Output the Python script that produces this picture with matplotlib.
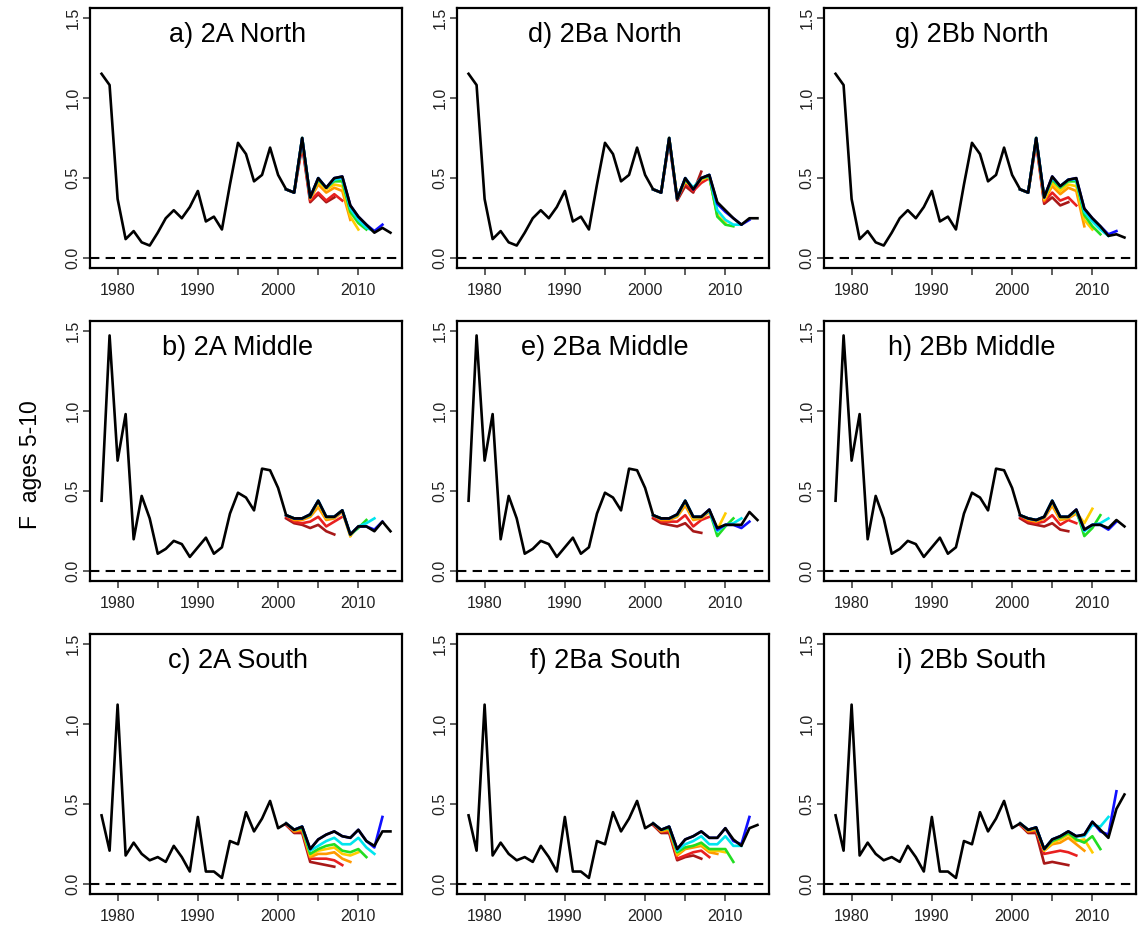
import matplotlib
matplotlib.use("Agg")
import matplotlib.pyplot as plt
import numpy as np

plt.rcParams['font.family'] = ['Liberation Sans', 'DejaVu Sans']

# years
years_early = list(range(1978, 2001))   # shared part of each region
years_recent = list(range(2001, 2015))  # part that differs between panels
peel_start = 2001
peel_colors = ['#A81818', '#E82020', '#FF9900', '#FFCC00', '#22DD22', '#00E5EE', '#1010FF']

# black series, early part (1978-2000) per region
north_early = [1.15, 1.08, 0.37, 0.12, 0.17, 0.10, 0.08, 0.16, 0.25, 0.30, 0.25, 0.32,
               0.42, 0.23, 0.26, 0.18, 0.46, 0.72, 0.65, 0.48, 0.52, 0.69, 0.52]
middle_early = [0.44, 1.47, 0.69, 0.98, 0.20, 0.47, 0.33, 0.11, 0.14, 0.19, 0.17, 0.09,
                0.15, 0.21, 0.11, 0.15, 0.36, 0.49, 0.46, 0.38, 0.64, 0.63, 0.52]
south_early = [0.43, 0.21, 1.12, 0.18, 0.26, 0.19, 0.15, 0.17, 0.14, 0.24, 0.17, 0.08,
               0.42, 0.08, 0.08, 0.04, 0.27, 0.25, 0.45, 0.33, 0.41, 0.52, 0.35]

# black series, 2001-2014
a_recent = [0.43, 0.41, 0.75, 0.38, 0.50, 0.44, 0.50, 0.51, 0.33, 0.26, 0.21, 0.16, 0.19, 0.16]
d_recent = [0.43, 0.41, 0.75, 0.37, 0.50, 0.43, 0.50, 0.52, 0.35, 0.30, 0.25, 0.21, 0.25, 0.25]
g_recent = [0.43, 0.41, 0.75, 0.38, 0.51, 0.45, 0.49, 0.50, 0.31, 0.25, 0.20, 0.14, 0.15, 0.13]
b_recent = [0.35, 0.33, 0.33, 0.355, 0.44, 0.34, 0.34, 0.38, 0.23, 0.28, 0.28, 0.25, 0.31, 0.25]
e_recent = [0.35, 0.33, 0.33, 0.355, 0.44, 0.34, 0.34, 0.385, 0.27, 0.29, 0.29, 0.29, 0.37, 0.32]
h_recent = [0.35, 0.33, 0.32, 0.34, 0.44, 0.34, 0.34, 0.385, 0.26, 0.29, 0.29, 0.27, 0.32, 0.28]
c_recent = [0.38, 0.34, 0.36, 0.22, 0.28, 0.31, 0.33, 0.30, 0.29, 0.34, 0.27, 0.24, 0.33, 0.33]
f_recent = [0.38, 0.34, 0.36, 0.22, 0.28, 0.30, 0.33, 0.29, 0.29, 0.35, 0.28, 0.24, 0.35, 0.37]
i_recent = [0.38, 0.34, 0.355, 0.22, 0.28, 0.30, 0.33, 0.30, 0.31, 0.39, 0.34, 0.29, 0.47, 0.56]

# retrospective peels from 2001, ending 2007 ... 2013
a_peels = [
    [0.43, 0.41, 0.70, 0.35, 0.40, 0.35, 0.38],
    [0.43, 0.41, 0.72, 0.36, 0.41, 0.36, 0.40, 0.36],
    [0.43, 0.41, 0.74, 0.37, 0.46, 0.41, 0.44, 0.42, 0.24],
    [0.43, 0.41, 0.75, 0.38, 0.48, 0.43, 0.46, 0.45, 0.26, 0.18],
    [0.43, 0.41, 0.75, 0.38, 0.49, 0.44, 0.48, 0.48, 0.29, 0.22, 0.18],
    [0.43, 0.41, 0.75, 0.38, 0.50, 0.44, 0.49, 0.50, 0.31, 0.24, 0.19, 0.17],
    [0.43, 0.41, 0.75, 0.38, 0.50, 0.44, 0.50, 0.51, 0.33, 0.26, 0.21, 0.17, 0.21],
]
d_peels = [
    [0.43, 0.41, 0.73, 0.36, 0.45, 0.41, 0.54],
    [0.43, 0.41, 0.74, 0.37, 0.47, 0.42, 0.47, 0.50],
    [0.43, 0.41, 0.75, 0.38, 0.48, 0.44, 0.49, 0.51, 0.27],
    [0.43, 0.41, 0.75, 0.38, 0.48, 0.44, 0.49, 0.51, 0.27, 0.22],
    [0.43, 0.41, 0.75, 0.37, 0.49, 0.44, 0.50, 0.51, 0.26, 0.21, 0.20],
    [0.43, 0.41, 0.75, 0.37, 0.50, 0.44, 0.50, 0.52, 0.30, 0.24, 0.21, 0.21],
    [0.43, 0.41, 0.75, 0.37, 0.50, 0.43, 0.50, 0.52, 0.34, 0.29, 0.25, 0.21, 0.24],
]
g_peels = [
    [0.43, 0.41, 0.72, 0.34, 0.38, 0.33, 0.35],
    [0.43, 0.41, 0.73, 0.35, 0.41, 0.36, 0.38, 0.33],
    [0.43, 0.41, 0.74, 0.36, 0.45, 0.40, 0.44, 0.42, 0.20],
    [0.43, 0.41, 0.75, 0.37, 0.47, 0.42, 0.46, 0.45, 0.24, 0.18],
    [0.43, 0.41, 0.75, 0.38, 0.49, 0.44, 0.48, 0.48, 0.27, 0.20, 0.15],
    [0.43, 0.41, 0.75, 0.38, 0.50, 0.45, 0.49, 0.49, 0.29, 0.23, 0.18, 0.14],
    [0.43, 0.41, 0.75, 0.38, 0.51, 0.45, 0.49, 0.50, 0.31, 0.25, 0.20, 0.15, 0.17],
]
b_peels = [
    [0.33, 0.30, 0.29, 0.27, 0.29, 0.25, 0.23],
    [0.34, 0.31, 0.30, 0.31, 0.34, 0.28, 0.31, 0.34],
    [0.35, 0.32, 0.32, 0.34, 0.40, 0.32, 0.33, 0.37, 0.22],
    [0.35, 0.33, 0.33, 0.35, 0.43, 0.33, 0.34, 0.38, 0.22, 0.28],
    [0.35, 0.33, 0.33, 0.35, 0.44, 0.34, 0.34, 0.38, 0.23, 0.27, 0.32],
    [0.35, 0.33, 0.33, 0.355, 0.44, 0.34, 0.34, 0.38, 0.23, 0.28, 0.30, 0.33],
    [0.35, 0.33, 0.33, 0.355, 0.44, 0.34, 0.34, 0.38, 0.23, 0.28, 0.28, 0.26, 0.31],
]
e_peels = [
    [0.33, 0.30, 0.29, 0.28, 0.30, 0.25, 0.24],
    [0.34, 0.31, 0.31, 0.31, 0.35, 0.28, 0.32, 0.34],
    [0.35, 0.32, 0.32, 0.34, 0.41, 0.32, 0.33, 0.37, 0.26],
    [0.35, 0.33, 0.33, 0.35, 0.43, 0.33, 0.34, 0.38, 0.26, 0.36],
    [0.35, 0.33, 0.33, 0.35, 0.44, 0.34, 0.34, 0.38, 0.22, 0.28, 0.33],
    [0.35, 0.33, 0.33, 0.355, 0.44, 0.34, 0.34, 0.38, 0.25, 0.29, 0.30, 0.33],
    [0.35, 0.33, 0.33, 0.355, 0.44, 0.34, 0.34, 0.385, 0.26, 0.29, 0.29, 0.27, 0.31],
]
h_peels = [
    [0.33, 0.30, 0.29, 0.28, 0.30, 0.26, 0.25],
    [0.34, 0.31, 0.30, 0.31, 0.35, 0.29, 0.32, 0.30],
    [0.35, 0.32, 0.31, 0.33, 0.41, 0.32, 0.33, 0.36, 0.27],
    [0.35, 0.33, 0.32, 0.34, 0.43, 0.33, 0.34, 0.37, 0.30, 0.39],
    [0.35, 0.33, 0.32, 0.34, 0.44, 0.34, 0.34, 0.38, 0.22, 0.27, 0.35],
    [0.35, 0.33, 0.32, 0.34, 0.44, 0.34, 0.34, 0.38, 0.25, 0.29, 0.30, 0.33],
    [0.35, 0.33, 0.32, 0.34, 0.44, 0.34, 0.34, 0.385, 0.26, 0.29, 0.29, 0.26, 0.31],
]
c_peels = [
    [0.37, 0.32, 0.32, 0.14, 0.13, 0.12, 0.11],
    [0.37, 0.33, 0.33, 0.16, 0.16, 0.16, 0.15, 0.12],
    [0.38, 0.33, 0.34, 0.17, 0.19, 0.19, 0.20, 0.16, 0.14],
    [0.38, 0.34, 0.35, 0.18, 0.21, 0.22, 0.23, 0.19, 0.18, 0.20],
    [0.38, 0.34, 0.35, 0.19, 0.22, 0.24, 0.25, 0.21, 0.20, 0.22, 0.17],
    [0.38, 0.34, 0.36, 0.21, 0.24, 0.27, 0.29, 0.25, 0.25, 0.29, 0.23, 0.19],
    [0.38, 0.34, 0.36, 0.22, 0.28, 0.31, 0.33, 0.30, 0.29, 0.34, 0.27, 0.23, 0.42],
]
f_peels = [
    [0.37, 0.32, 0.32, 0.15, 0.17, 0.18, 0.16],
    [0.37, 0.33, 0.33, 0.16, 0.18, 0.20, 0.21, 0.17],
    [0.38, 0.33, 0.34, 0.18, 0.22, 0.23, 0.24, 0.20, 0.19],
    [0.38, 0.34, 0.35, 0.19, 0.23, 0.24, 0.25, 0.21, 0.21, 0.20],
    [0.38, 0.34, 0.35, 0.20, 0.23, 0.24, 0.26, 0.22, 0.22, 0.22, 0.14],
    [0.38, 0.34, 0.36, 0.21, 0.25, 0.27, 0.30, 0.25, 0.25, 0.30, 0.24, 0.24],
    [0.38, 0.34, 0.36, 0.22, 0.28, 0.30, 0.33, 0.29, 0.29, 0.35, 0.27, 0.25, 0.42],
]
i_peels = [
    [0.37, 0.32, 0.32, 0.13, 0.14, 0.13, 0.12],
    [0.37, 0.33, 0.33, 0.19, 0.20, 0.21, 0.20, 0.18],
    [0.38, 0.33, 0.34, 0.21, 0.25, 0.26, 0.29, 0.25, 0.21],
    [0.38, 0.34, 0.35, 0.21, 0.26, 0.28, 0.31, 0.27, 0.28, 0.20],
    [0.38, 0.34, 0.35, 0.22, 0.27, 0.29, 0.32, 0.28, 0.26, 0.30, 0.22],
    [0.38, 0.34, 0.355, 0.22, 0.28, 0.30, 0.33, 0.30, 0.30, 0.37, 0.36, 0.42],
    [0.38, 0.34, 0.355, 0.22, 0.28, 0.30, 0.33, 0.30, 0.31, 0.39, 0.33, 0.31, 0.58],
]

titles = [["a) 2A North", "d) 2Ba North", "g) 2Bb North"],
          ["b) 2A Middle", "e) 2Ba Middle", "h) 2Bb Middle"],
          ["c) 2A South", "f) 2Ba South", "i) 2Bb South"]]
early = [north_early, middle_early, south_early]
recent = [[a_recent, d_recent, g_recent],
          [b_recent, e_recent, h_recent],
          [c_recent, f_recent, i_recent]]
peels = [[a_peels, d_peels, g_peels],
         [b_peels, e_peels, h_peels],
         [c_peels, f_peels, i_peels]]

W, H = 1142, 930
fig = plt.figure(figsize=(W / 100, H / 100), dpi=100)

col_left = [90, 457, 824]
row_top = [8, 321, 634]
pw, ph = 312, 260

for r in range(3):
    for c in range(3):
        ax = fig.add_axes([col_left[c] / W, 1 - (row_top[r] + ph) / H, pw / W, ph / H])
        yrs = years_early + years_recent
        vals = early[r] + recent[r][c]
        for k, pv in enumerate(peels[r][c]):
            py = list(range(peel_start, peel_start + len(pv)))
            ax.plot(py, pv, color=peel_colors[k], lw=1.9, solid_joinstyle='round')
        ax.plot(yrs, vals, color='black', lw=1.9, zorder=5)
        ax.axhline(0, color='black', lw=1.5, linestyle=(0, (4.5, 3)))
        ax.set_xlim(1976.56, 2015.44)
        ax.set_ylim(-0.06, 1.56)
        ax.set_xticks(np.arange(1980, 2011, 5))
        ax.set_xticklabels([str(t) if t % 10 == 0 else '' for t in range(1980, 2011, 5)])
        ax.set_yticks([0, 0.5, 1.0, 1.5])
        ax.set_yticklabels(['0.0', '0.5', '1.0', '1.5'], rotation=90, va='center')
        ax.tick_params(length=5, width=1.1, labelsize=11.5, color='#333333', labelcolor='#222222')
        ax.tick_params(axis='x', pad=6)
        ax.tick_params(axis='y', pad=2)
        for s in ax.spines.values():
            s.set_linewidth(1.6)
        ax.text(1995, 1.39, titles[r][c], ha='center', va='center', fontsize=19.5)

fig.text(30 / W, 0.5, "F  ages 5-10", rotation=90, ha='center', va='center', fontsize=16.5)

fig.savefig("out.png", dpi=100)
